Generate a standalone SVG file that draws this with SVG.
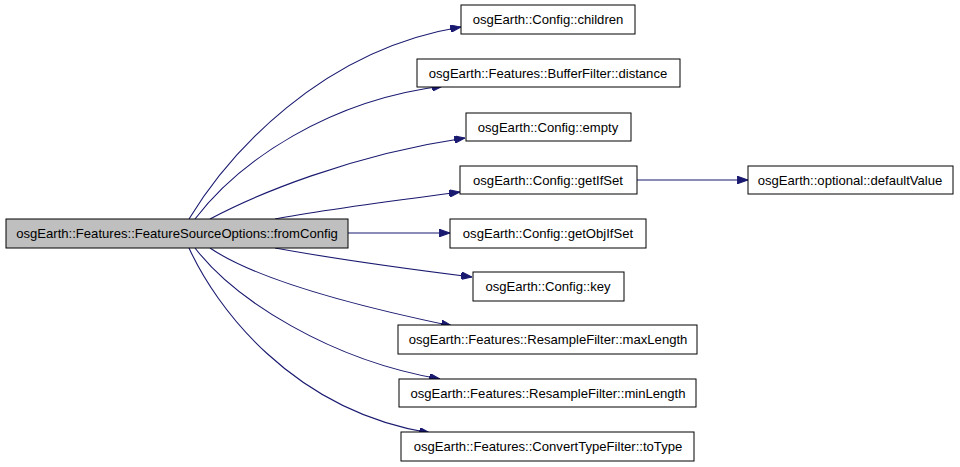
<svg xmlns="http://www.w3.org/2000/svg" width="960" height="467" viewBox="0 0 960 467">
<style>
.n rect{fill:#fff;stroke:#000;stroke-width:1}
.n.m rect{fill:#bfbfbf}
.n text{font-family:"Liberation Sans",Arial,sans-serif;font-size:13.1px;text-anchor:middle;fill:#000}
.e path{fill:none;stroke:#191970;stroke-width:1.1}
</style>
<defs>
<marker id="ah" viewBox="0 0 10 7" refX="10" refY="3.5" markerWidth="11" markerHeight="7.5" markerUnits="userSpaceOnUse" orient="auto">
<path d="M0,0 L10,3.5 L0,7 z" fill="#191970" stroke="#191970"/>
</marker>
</defs>
<rect width="960" height="467" fill="#fff"/>
<g class="e" marker-end="url(#ah)">
<path d="M189,219 C228,155 320,50 461,27"/>
<path d="M195,219 C240,160 330,100 443,86"/>
<path d="M210,219 C255,195 350,155 465,138"/>
<path d="M275,219 C320,210 400,200 460,192"/>
<path d="M348,233 L450,233"/>
<path d="M275,248 C330,258 400,268 472,277"/>
<path d="M210,248 C260,282 375,310 452,326"/>
<path d="M195,248 C235,300 330,360 440,379"/>
<path d="M189,248 C215,305 290,410 430,433"/>
<path d="M637,180 L748,180"/>
</g>
<g id="main" class="n m"><rect x="6" y="219" width="342" height="29"/><text x="177" y="238">osgEarth::Features::FeatureSourceOptions::fromConfig</text></g>
<g id="children" class="n"><rect x="461" y="5" width="174" height="29"/><text x="548" y="24">osgEarth::Config::children</text></g>
<g id="distance" class="n"><rect x="417" y="59" width="263" height="28"/><text x="548" y="78">osgEarth::Features::BufferFilter::distance</text></g>
<g id="empty" class="n"><rect x="466" y="113" width="165" height="28"/><text x="548" y="132">osgEarth::Config::empty</text></g>
<g id="getIfSet" class="n"><rect x="460" y="166" width="177" height="28"/><text x="548" y="185">osgEarth::Config::getIfSet</text></g>
<g id="getObjIfSet" class="n"><rect x="450" y="219" width="196" height="29"/><text x="548" y="238">osgEarth::Config::getObjIfSet</text></g>
<g id="key" class="n"><rect x="473" y="272" width="151" height="29"/><text x="548" y="291">osgEarth::Config::key</text></g>
<g id="maxLength" class="n"><rect x="398" y="325" width="299" height="29"/><text x="548" y="344">osgEarth::Features::ResampleFilter::maxLength</text></g>
<g id="minLength" class="n"><rect x="399" y="379" width="297" height="28"/><text x="548" y="398">osgEarth::Features::ResampleFilter::minLength</text></g>
<g id="toType" class="n"><rect x="401" y="432" width="293" height="29"/><text x="548" y="451">osgEarth::Features::ConvertTypeFilter::toType</text></g>
<g id="defaultValue" class="n"><rect x="748" y="166" width="205" height="28"/><text x="850" y="185">osgEarth::optional::defaultValue</text></g>
</svg>
